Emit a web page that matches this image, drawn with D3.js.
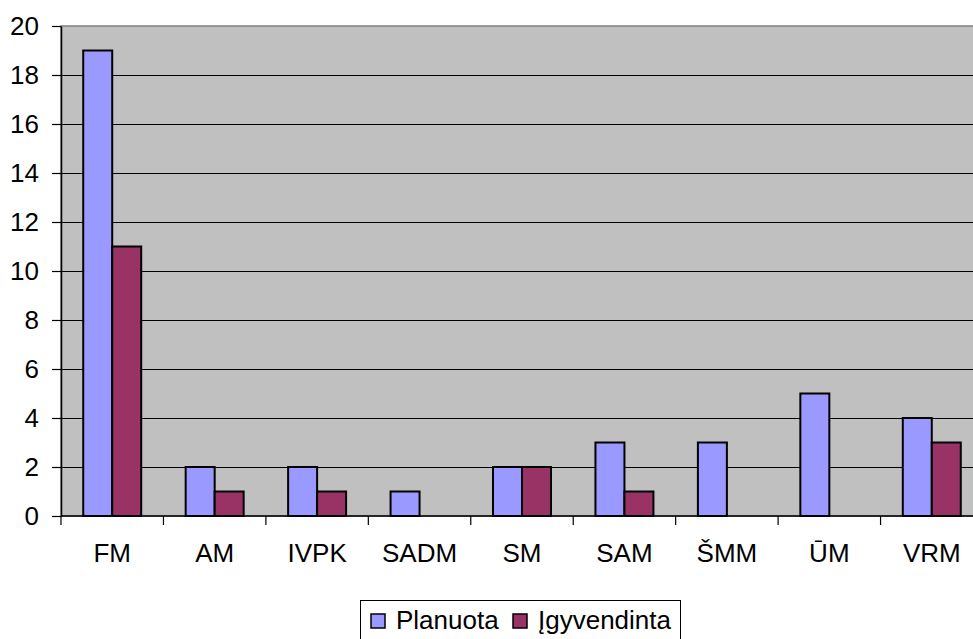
<!DOCTYPE html>
<html>
<head>
<meta charset="utf-8">
<script src="https://cdn.jsdelivr.net/npm/d3@7"></script>
<style>
html,body{margin:0;padding:0;background:#fff;}
svg{display:block;font-family:"Liberation Sans",Arial,sans-serif;}
</style>
</head>
<body>
<svg id="chart" width="973" height="639"></svg>
<script>
const categories = ["FM","AM","IVPK","SADM","SM","SAM","ŠMM","ŪM","VRM"];
const planuota = [19,2,2,1,2,3,3,5,4];
const igyvendinta = [11,1,1,0,2,1,0,0,3];
const seriesNames = ["Planuota","Įgyvendinta"];
const seriesColors = ["#9999FF","#993366"];
const yTicks = [0,2,4,6,8,10,12,14,16,18,20];

(function(){
const svg = d3.select("#chart");
const pLeft = 61, pRight = 983, pTop = 26, pBottom = 516;
const fs = 26;

const x = d3.scaleBand().domain(categories).range([pLeft, pRight]).paddingInner(0.434).paddingOuter(0.217);
const xs = d3.scaleBand().domain([0,1]).range([0, x.bandwidth()]);
const y = d3.scaleLinear().domain([0,20]).range([pBottom, pTop]);

// plot background
svg.append("rect").attr("x", pLeft).attr("y", pTop).attr("width", pRight-pLeft).attr("height", pBottom-pTop)
  .attr("fill", "#C0C0C0").attr("stroke", "#808080").attr("stroke-width", 1.5);

// gridlines
svg.append("g").selectAll("line").data(yTicks.filter(d => d > 0 && d < 20)).join("line")
  .attr("x1", pLeft).attr("x2", pRight)
  .attr("y1", d => Math.round(y(d)) + 0.5).attr("y2", d => Math.round(y(d)) + 0.5)
  .attr("stroke", "#000").attr("stroke-width", 1);

// bars
const series = [planuota, igyvendinta];
series.forEach((vals, si) => {
  svg.append("g").selectAll("rect").data(categories.map((c,i)=>({c, v: vals[i]})).filter(d => d.v > 0)).join("rect")
    .attr("x", d => x(d.c) + xs(si))
    .attr("y", d => y(d.v))
    .attr("width", xs.bandwidth())
    .attr("height", d => y(0) - y(d.v))
    .attr("fill", seriesColors[si])
    .attr("stroke", "#000").attr("stroke-width", 2);
});

// y axis
const yAxis = d3.axisLeft(y).tickValues(yTicks).tickSize(9).tickPadding(13).tickSizeOuter(0);
const gy = svg.append("g").attr("transform", `translate(${pLeft},0)`).call(yAxis);
gy.select(".domain").attr("stroke", "#000").attr("stroke-width", 1.5);
gy.selectAll(".tick line").attr("stroke", "#000").attr("stroke-width", 1.2);
gy.selectAll(".tick text").attr("font-size", fs).attr("fill", "#000")
  .attr("font-family", "'Liberation Sans', Arial, sans-serif");

// x axis (ticks at category boundaries)
svg.append("line").attr("x1", pLeft).attr("x2", pRight).attr("y1", pBottom).attr("y2", pBottom)
  .attr("stroke", "#000").attr("stroke-width", 1.5);
const boundaries = categories.map(c => x(c) - x.step()*x.paddingOuter());
svg.append("g").selectAll("line").data(boundaries).join("line")
  .attr("x1", d => d).attr("x2", d => d).attr("y1", pBottom).attr("y2", pBottom + 9)
  .attr("stroke", "#000").attr("stroke-width", 1.2);
svg.append("g").selectAll("text").data(categories).join("text")
  .attr("x", d => x(d) + x.bandwidth()/2)
  .attr("y", 562)
  .attr("text-anchor", "middle")
  .attr("font-size", fs)
  .attr("fill", "#000")
  .text(d => d);

// legend
const lg = svg.append("g");
lg.append("rect").attr("x", 360.5).attr("y", 600.5).attr("width", 320).attr("height", 45)
  .attr("fill", "#fff").attr("stroke", "#000").attr("stroke-width", 1);
const legendX = [371, 513];
seriesNames.forEach((n, i) => {
  lg.append("rect").attr("x", legendX[i]).attr("y", 614).attr("width", 14).attr("height", 14)
    .attr("fill", seriesColors[i]).attr("stroke", "#000").attr("stroke-width", 1.5);
  lg.append("text").attr("x", legendX[i] + 25).attr("y", 629).attr("font-size", fs).attr("fill", "#000").text(n);
});
})();
</script>
</body>
</html>
